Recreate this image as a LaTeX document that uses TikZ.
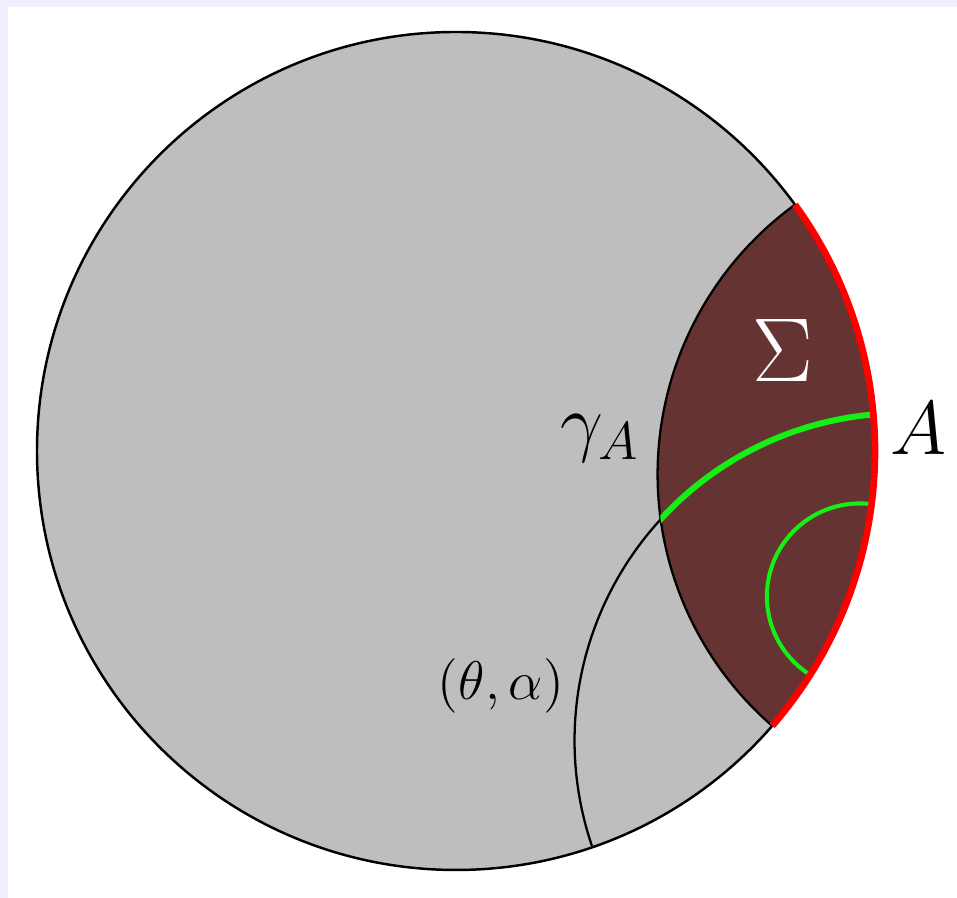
\RequirePackage{fix-cm}
\documentclass[tikz,border=0pt]{standalone}
\usepackage{tikz}

\definecolor{diskgray}{RGB}{190,190,190}
\definecolor{sigmabrown}{RGB}{102,51,51}
\definecolor{geogreen}{RGB}{20,240,20}
\definecolor{slidebg}{RGB}{238,238,252}

\begin{document}
\begin{tikzpicture}[
    x=0.01cm, y=0.01cm,
    % styles des traits
    rim/.style     = {draw=black, line width=0.7pt},
    geo/.style     = {draw=black, line width=0.65pt},
    geogrn/.style  = {draw=geogreen, line width=1.7pt},
    geogrns/.style = {draw=geogreen, line width=1.15pt},
    bdry/.style    = {draw=red, line width=1.9pt},
    % styles des textes
    lbl/.style     = {inner sep=0pt, anchor=base},
]

% ── Fond ──────────────────────────────────────────────────────────────────────
\fill[slidebg] (-456,451) rectangle (501,-447);
\fill[white]   (-448,444) rectangle (501,-447);
\useasboundingbox (-456,451) rectangle (501,-447);

% ── Disque ────────────────────────────────────────────────────────────────────
\fill[diskgray] (0,0) circle[radius=419];

% ── Région Sigma ──────────────────────────────────────────────────────────────
\fill[sigmabrown] (-41:419) arc[start angle=-41, end angle=36, radius=419]
    arc[start angle=126, end angle=229, radius=333.3] -- cycle;

% ── Géodésiques ───────────────────────────────────────────────────────────────
\draw[geo] (36:419) arc[start angle=126, end angle=229, radius=333.3];
\draw[geo] (5:419) arc[start angle=95, end angle=199, radius=327.4];

\begin{scope}
  \clip (-41:419) arc[start angle=-41, end angle=36, radius=419]
      arc[start angle=126, end angle=229, radius=333.3] -- cycle;
  \draw[geogrn] (5:419) arc[start angle=95, end angle=199, radius=327.4];
\end{scope}

\draw[geogrns] (-7.3:419) arc[start angle=82.7, end angle=237.7, radius=92.9];

% ── Bord ──────────────────────────────────────────────────────────────────────
\draw[rim] (0,0) circle[radius=419];
\draw[bdry] (-41:419) arc[start angle=-41, end angle=36, radius=419];

% ── Étiquettes ────────────────────────────────────────────────────────────────
\node[lbl, text=white, font=\fontsize{25.8}{30}\selectfont] (sigma) at (327,69) {$\Sigma$};
\node[lbl, font=\fontsize{21.7}{26}\selectfont] (bdryA) at (463,-4) {$A$};
\node[lbl, font=\fontsize{21.7}{26}\selectfont] (gammaA) at (144,3) {$\gamma_A$};
\node[lbl, font=\fontsize{15.5}{19}\selectfont] (thetaalpha) at (45,-249) {$(\theta,\alpha)$};

\end{tikzpicture}
\end{document}
